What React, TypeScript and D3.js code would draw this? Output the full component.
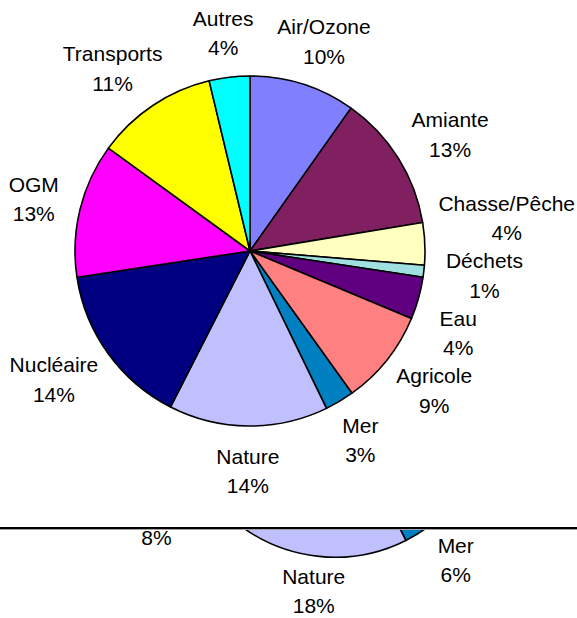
import React from "react";
import * as d3 from "d3";

// ---- data ----
const categories = [
  "Air/Ozone", "Amiante", "Chasse/Pêche", "Déchets", "Eau", "Agricole",
  "Mer", "Nature", "Nucléaire", "OGM", "Transports", "Autres",
];
const shares = [9.8, 12.6, 3.9, 1.1, 3.9, 8.8, 2.7, 14.7, 15.1, 12.4, 11.25, 3.75];
const shareLabels = ["10%", "13%", "4%", "1%", "4%", "9%", "3%", "14%", "14%", "13%", "11%", "4%"];
const colors = [
  "#8080FF", "#802060", "#FFFFC0", "#A0E0E0", "#600080", "#FF8080",
  "#0080C0", "#C0C0FF", "#000080", "#FF00FF", "#FFFF00", "#00FFFF",
];
// second, mostly hidden pie (only Mer, Nature, Nucléaire visible)
const shares2 = [8, 11, 3, 2, 4, 8.6, 6, 18, 8, 12, 14, 5.4];
const shareLabels2 = ["8%", "11%", "3%", "2%", "4%", "9%", "6%", "18%", "8%", "12%", "14%", "5%"];

const W = 577;
const H = 618;
const FONT = "'Liberation Sans', Arial, sans-serif";
const FS = 21;
const LH = 29.5;

let ctx: CanvasRenderingContext2D | null = null;
function measure(t: string): number {
  if (!ctx) {
    const c = document.createElement("canvas");
    ctx = c.getContext("2d");
  }
  if (!ctx) return t.length * FS * 0.55;
  ctx.font = `${FS}px ${FONT}`;
  return ctx.measureText(t).width;
}

type Lab = { x: number; y: number; w: number; h: number; name: string; pct: string };

function layoutLabels(
  arcs: d3.PieArcDatum<number>[],
  names: string[],
  pcts: string[],
  cx: number,
  cy: number,
  R: number
): Lab[] {
  const capH = 0.716 * FS;
  const boxH = capH + LH;
  const labs: Lab[] = arcs.map((a, i) => {
    const th = (a.startAngle + a.endAngle) / 2;
    const s = Math.sin(th);
    const c = Math.cos(th);
    const w = Math.max(measure(names[i]), measure(pcts[i]));
    let x = cx + s * (R + w / 2);
    const y = cy - c * (R + boxH / 2);
    x = Math.min(Math.max(x, w / 2 + 2), W - w / 2 - 2);
    return { x, y, w, h: boxH, name: names[i], pct: pcts[i] };
  });
  const minSep = boxH + 13;
  for (let it = 0; it < 300; it++) {
    let moved = false;
    for (let i = 0; i < labs.length; i++) {
      for (let j = i + 1; j < labs.length; j++) {
        const A = labs[i];
        const B = labs[j];
        if (Math.abs(A.x - B.x) >= (A.w + B.w) / 2) continue;
        const dy = B.y - A.y;
        if (Math.abs(dy) < minSep) {
          const push = (minSep - Math.abs(dy)) / 2 + 0.01;
          const dir = dy >= 0 ? 1 : -1;
          A.y -= dir * push;
          B.y += dir * push;
          moved = true;
        }
      }
    }
    if (!moved) break;
  }
  // keep the label boxes inside the picture vertically
  labs.forEach((l) => {
    const maxY = H - 5 - boxH / 2;
    const minY = 2 + boxH / 2;
    l.y = Math.min(Math.max(l.y, minY), maxY);
  });
  return labs;
}

function Pie({
  values, pcts, cx, cy, r, clip,
}: { values: number[]; pcts: string[]; cx: number; cy: number; r: number; clip?: string }) {
  const pie = d3.pie<number>().sort(null).value((d) => d);
  const arcs = pie(values);
  const arcGen = d3.arc<d3.PieArcDatum<number>>().innerRadius(0).outerRadius(r);
  const labs = layoutLabels(arcs, categories, pcts, cx, cy, r + 22.5);
  const capH = 0.716 * FS;
  return (
    <g clipPath={clip}>
      <g transform={`translate(${cx},${cy})`}>
        {arcs.map((a, i) => (
          <path
            key={i}
            d={arcGen(a) || ""}
            fill={colors[i]}
            stroke="#000"
            strokeWidth={1.6}
            strokeLinejoin="round"
          />
        ))}
      </g>
      {labs.map((l, i) => {
        const b1 = l.y + (capH - LH) / 2;
        return (
          <g key={i} fontFamily={FONT} fontSize={FS} fill="#000" textAnchor="middle">
            <text x={l.x} y={b1}>{l.name}</text>
            <text x={l.x} y={b1 + LH}>{l.pct}</text>
          </g>
        );
      })}
    </g>
  );
}

export default function App() {
  return (
    <div style={{ position: "fixed", left: 0, top: 0, width: W, height: H, background: "#fff" }}>
      <svg width={W} height={H} viewBox={`0 0 ${W} ${H}`} style={{ display: "block" }}>
        <defs>
          <clipPath id="lower">
            <rect x={0} y={529} width={W} height={H - 529} />
          </clipPath>
        </defs>
        <rect x={0} y={0} width={W} height={H} fill="#fff" />
        <Pie values={shares} pcts={shareLabels} cx={250} cy={251} r={175} />
        <Pie values={shares2} pcts={shareLabels2} cx={335} cy={399.2} r={158} clip="url(#lower)" />
        <rect x={0} y={527} width={W} height={2} fill="#000" />
        <rect x={0} y={529} width={W} height={1} fill="#a0a0a0" />
      </svg>
    </div>
  );
}
